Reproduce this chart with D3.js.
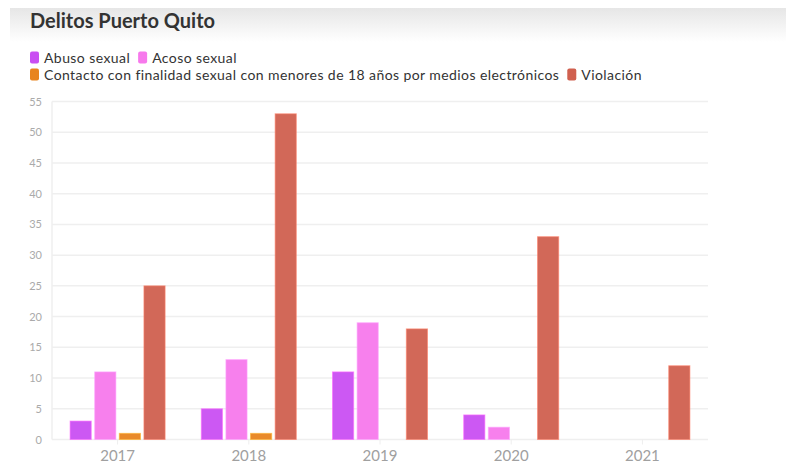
<!DOCTYPE html>
<html><head><meta charset="utf-8">
<script src="https://cdn.jsdelivr.net/npm/d3@7"></script>
<style>
body{margin:0;background:#fff;}
svg{display:block;font-family:Lato,"Open Sans",sans-serif;}
</style></head>
<body><svg id="c" width="786" height="466"></svg>
<script>
const years = ["2017","2018","2019","2020","2021"];
const seriesNames = ["Abuso sexual","Acoso sexual","Contacto con finalidad sexual con menores de 18 años por medios electrónicos","Violación"];
const seriesColors = ["#c94ff2","#f779ec","#e8841f","#d0604f"];
const abuso = [3,5,11,4,0];
const acoso = [11,13,19,2,0];
const contacto = [1,1,0,0,0];
const violacion = [25,53,18,33,12];
const yTicks = [0,5,10,15,20,25,30,35,40,45,50,55];
const seriesValues = [abuso,acoso,contacto,violacion];

(function(){
const svg = d3.select("#c");
const defs = svg.append("defs");
const g0 = defs.append("linearGradient").attr("id","hdr").attr("x1",0).attr("x2",0).attr("y1",0).attr("y2",1);
g0.append("stop").attr("offset","0%").attr("stop-color","#e6e6e6");
g0.append("stop").attr("offset","100%").attr("stop-color","#ffffff");
svg.append("rect").attr("x",10).attr("y",8).attr("width",776).attr("height",34).attr("fill","url(#hdr)");

svg.append("text").attr("x",30).attr("y",28).attr("font-size",20).attr("font-weight","bold")
  .attr("fill","#333").text("Delitos Puerto Quito");

const legRows = [[0,1],[2,3]];
legRows.forEach((row,ri)=>{
  let x = 30;
  const yy = 57.5 + ri*17;
  row.forEach(i=>{
    svg.append("rect").attr("x",x).attr("y",yy-6).attr("width",9).attr("height",12).attr("rx",2).attr("fill",seriesColors[i]);
    const t = svg.append("text").attr("x",x+14).attr("y",yy+5).attr("font-size",14)
      .attr("letter-spacing",0.42).attr("fill","#333").text(seriesNames[i]);
    x += 14 + t.node().getComputedTextLength() + 8;
  });
});

const pLeft = 52, pRight = 708, pTop = 101.5, pBottom = 439.5;
const x0 = d3.scaleBand().domain(years).range([pLeft,pRight]);
const x1 = d3.scaleBand().domain(d3.range(4)).range([0,95]).paddingInner(0.14);
const y = d3.scaleLinear().domain([0,55]).range([pBottom,pTop]);

svg.append("g").selectAll("line").data(yTicks).join("line")
  .attr("x1",pLeft).attr("x2",pRight).attr("y1",d=>y(d)).attr("y2",d=>y(d))
  .attr("stroke","#efefef").attr("stroke-width",1.5);
svg.append("line").attr("x1",pLeft).attr("x2",pLeft).attr("y1",pTop).attr("y2",pBottom).attr("stroke","#efefef").attr("stroke-width",1.5);

const yAxis = svg.append("g").attr("transform",`translate(${pLeft},0)`)
  .call(d3.axisLeft(y).tickValues(yTicks).tickSize(0).tickPadding(10));
yAxis.select(".domain").remove();
yAxis.selectAll("text").attr("font-size",11).attr("fill","#aaa").attr("font-family","Lato,sans-serif");

const xAxis = svg.append("g").attr("transform",`translate(0,${pBottom})`)
  .call(d3.axisBottom(x0).tickSize(5).tickPadding(6));
xAxis.select(".domain").remove();
xAxis.selectAll("line").attr("stroke","#eee");
xAxis.selectAll("text").attr("font-size",15).attr("fill","#a0a0a0").attr("font-family","Lato,sans-serif");

const groups = svg.append("g").selectAll("g").data(years).join("g")
  .attr("transform",d=>`translate(${x0(d)+x0.bandwidth()/2-47.5},0)`);
groups.selectAll("rect").data((d,yi)=>seriesValues.map((s,si)=>({si,v:s[yi]})).filter(o=>o.v>0)).join("rect")
  .attr("x",d=>x1(d.si)).attr("width",x1.bandwidth())
  .attr("y",d=>y(d.v)).attr("height",d=>pBottom-y(d.v))
  .attr("fill",d=>seriesColors[d.si]).attr("fill-opacity",0.95)
  .attr("stroke",d=>d3.color(seriesColors[d.si]).brighter(0.8)).attr("stroke-opacity",0.6).attr("stroke-width",1);
})();
</script></body></html>
